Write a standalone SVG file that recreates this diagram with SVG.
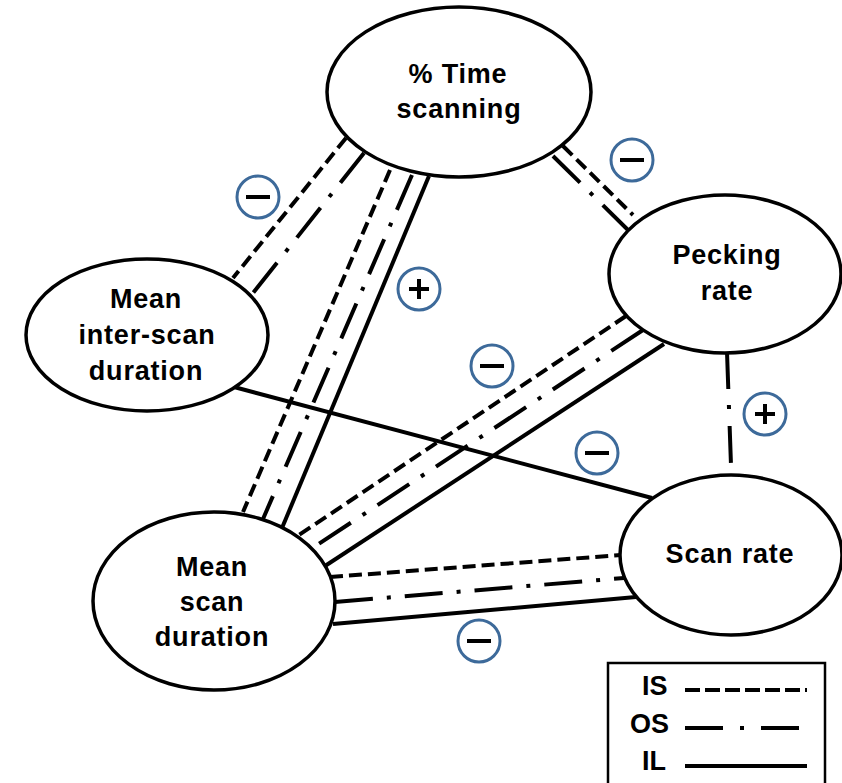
<svg xmlns="http://www.w3.org/2000/svg" width="842" height="783" viewBox="0 0 842 783">
<style>
.node{fill:#fff;stroke:#000;stroke-width:3.5}
.lbl{font-family:"Liberation Sans",Arial,sans-serif;font-weight:bold;font-size:27px;letter-spacing:0.8px;fill:#000;text-anchor:middle}
.leg{font-family:"Liberation Sans",Arial,sans-serif;font-weight:bold;font-size:27px;fill:#000}
.c{fill:none;stroke:#000;stroke-width:4}
.is{stroke-dasharray:13 6}
.os{stroke-dasharray:38 14 4 14}
.sign{fill:#fff;stroke:#3d6a9a;stroke-width:3}
.bar{fill:#000}
</style>
<rect width="842" height="783" fill="#fff"/>
<g id="connectors">
  <!-- Time scanning - Mean inter-scan duration -->
  <line class="c is" x1="346" y1="138" x2="233" y2="278"/>
  <line class="c os" x1="364" y1="153" x2="253" y2="293"/>
  <!-- Time scanning - Mean scan duration -->
  <line class="c is" x1="390" y1="170" x2="243" y2="512"/>
  <line class="c os" x1="412" y1="175" x2="263" y2="519"/>
  <line class="c" x1="429" y1="176" x2="282" y2="528"/>
  <!-- Time scanning - Pecking rate -->
  <line class="c is" x1="563" y1="146" x2="633" y2="215"/>
  <line class="c os" x1="553" y1="156" x2="628" y2="230"/>
  <!-- Pecking rate - Mean scan duration -->
  <line class="c is" x1="626" y1="316" x2="299" y2="535"/>
  <line class="c os" x1="643" y1="330" x2="311" y2="549"/>
  <line class="c" x1="664" y1="344" x2="325" y2="566"/>
  <!-- Mean inter-scan duration - Scan rate -->
  <line class="c" x1="234" y1="387" x2="652" y2="498"/>
  <!-- Pecking rate - Scan rate -->
  <line class="c" x1="727" y1="352" x2="731" y2="465" style="stroke-dasharray:37 16 4 17"/>
  <!-- Mean scan duration - Scan rate -->
  <line class="c is" x1="330" y1="577" x2="621" y2="555"/>
  <line class="c os" x1="335" y1="602" x2="624" y2="578"/>
  <line class="c" x1="333" y1="624" x2="636" y2="597"/>
  <!-- signs -->
  <g id="signs">
    <circle class="sign" cx="258" cy="197" r="21"/><rect class="bar" x="246" y="195" width="24" height="4"/>
    <circle class="sign" cx="632" cy="160" r="21"/><rect class="bar" x="620" y="158" width="24" height="4"/>
    <circle class="sign" cx="419" cy="289" r="21"/><rect class="bar" x="409" y="287" width="20" height="4"/><rect class="bar" x="417" y="279" width="4" height="20"/>
    <circle class="sign" cx="492" cy="366" r="21"/><rect class="bar" x="480" y="364" width="24" height="4"/>
    <circle class="sign" cx="597" cy="453" r="21"/><rect class="bar" x="585" y="451" width="24" height="4"/>
    <circle class="sign" cx="765" cy="414" r="21"/><rect class="bar" x="755" y="412" width="20" height="4"/><rect class="bar" x="763" y="404" width="4" height="20"/>
    <circle class="sign" cx="479" cy="641" r="21"/><rect class="bar" x="467" y="639" width="24" height="4"/>
  </g>
</g>
<g id="time-scanning">
  <ellipse class="node" cx="459" cy="92" rx="132" ry="85"/>
  <text class="lbl" x="458" y="83">% Time</text>
  <text class="lbl" x="459" y="118">scanning</text>
</g>
<g id="mean-inter-scan-duration">
  <ellipse class="node" cx="147" cy="335" rx="121" ry="76"/>
  <text class="lbl" x="146" y="308">Mean</text>
  <text class="lbl" x="147" y="344">inter-scan</text>
  <text class="lbl" x="146" y="380">duration</text>
</g>
<g id="pecking-rate">
  <ellipse class="node" cx="725" cy="274" rx="116" ry="79"/>
  <text class="lbl" x="727" y="264">Pecking</text>
  <text class="lbl" x="727" y="300">rate</text>
</g>
<g id="scan-rate">
  <ellipse class="node" cx="731" cy="555" rx="111" ry="80"/>
  <text class="lbl" x="730" y="563">Scan rate</text>
</g>
<g id="mean-scan-duration">
  <ellipse class="node" cx="214" cy="601" rx="121" ry="89"/>
  <text class="lbl" x="212" y="576">Mean</text>
  <text class="lbl" x="212" y="611">scan</text>
  <text class="lbl" x="212" y="646">duration</text>
</g>
<g id="legend">
  <rect x="608" y="663" width="217" height="140" fill="#fff" stroke="#000" stroke-width="2.5"/>
  <text class="leg" x="642" y="695">IS</text>
  <text class="leg" x="630" y="733">OS</text>
  <text class="leg" x="642" y="770">IL</text>
  <line class="c" x1="685" y1="690" x2="807" y2="690" style="stroke-dasharray:15 5"/>
  <line class="c" x1="685" y1="728" x2="799" y2="728" style="stroke-dasharray:38 17 4 17"/>
  <line class="c" x1="685" y1="766" x2="807" y2="766"/>
</g>
</svg>
